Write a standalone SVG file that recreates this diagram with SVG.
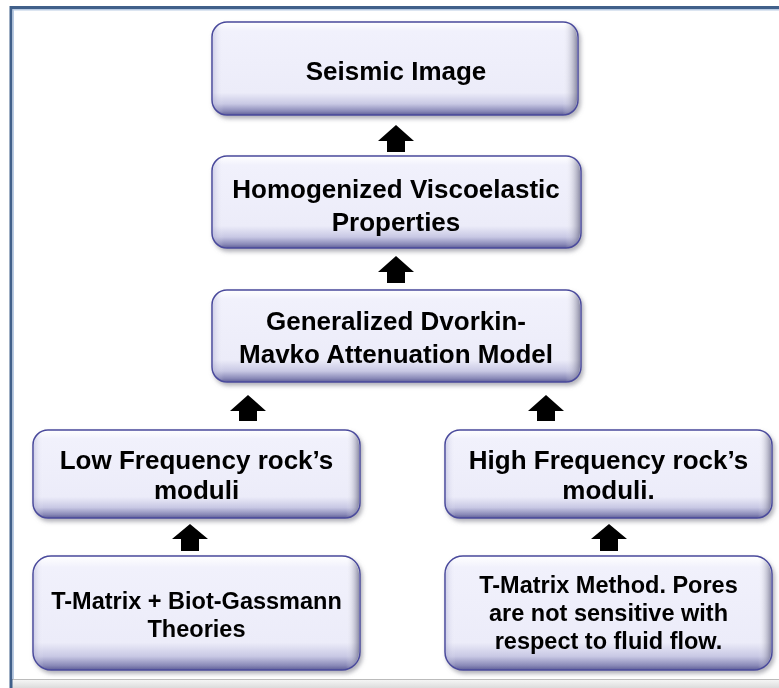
<svg xmlns="http://www.w3.org/2000/svg" width="779" height="688" viewBox="0 0 779 688">
  <style>
    .box { stroke: #4a4a9c; stroke-width: 1.5; fill: url(#gv); }
    .edge { fill: url(#gh); stroke: none; }
    .t { font-family: "Liberation Sans", Arial, sans-serif; font-weight: bold; font-size: 26px; fill: #000; text-anchor: middle; }
    .s { font-size: 23.5px; }
    .arrow { fill: #000; }
  </style>
  <defs>
    <linearGradient id="gv" x1="0" y1="0" x2="0" y2="1">
      <stop offset="0" stop-color="#ffffff"/>
      <stop offset="0.1" stop-color="#f1f1fc"/>
      <stop offset="0.76" stop-color="#ececf9"/>
      <stop offset="0.88" stop-color="#c8c8e4"/>
      <stop offset="0.96" stop-color="#8a8ab8"/>
      <stop offset="1" stop-color="#5e5e98"/>
    </linearGradient>
    <linearGradient id="gh" x1="0" y1="0" x2="1" y2="0">
      <stop offset="0" stop-color="#9a9ac8" stop-opacity="0.35"/>
      <stop offset="0.03" stop-color="#ffffff" stop-opacity="0"/>
      <stop offset="0.96" stop-color="#ffffff" stop-opacity="0"/>
      <stop offset="1" stop-color="#505070" stop-opacity="0.6"/>
    </linearGradient>
    <filter id="sh" x="-5%" y="-5%" width="115%" height="125%">
      <feDropShadow dx="2" dy="3" stdDeviation="2" flood-color="#707080" flood-opacity="0.55"/>
    </filter>
    <linearGradient id="bot" x1="0" y1="0" x2="0" y2="1">
      <stop offset="0" stop-color="#9a9a9a"/>
      <stop offset="0.15" stop-color="#f4f4f4"/>
      <stop offset="1" stop-color="#dcdcdc"/>
    </linearGradient>
  </defs>

  <rect x="0" y="0" width="779" height="688" fill="#ffffff"/>

  <g id="frame">
    <polygon points="12,679 779,679 779,688 12,688" fill="url(#bot)"/>
    <rect x="10" y="6" width="769" height="3" fill="#41608a"/>
    <rect x="12" y="9" width="767" height="1.5" fill="#b9cbe3"/>
    <rect x="9.5" y="6" width="3" height="682" fill="#41608a"/>
    <rect x="12.5" y="9" width="1.5" height="670" fill="#b9cbe3"/>
  </g>

  <g id="connectors">
    <polygon class="arrow" points="396,125 414,141 405,141 405,152 387,152 387,141 378,141"/>
    <polygon class="arrow" points="396,256 414,272 405,272 405,283 387,283 387,272 378,272"/>
    <polygon class="arrow" points="248,395 266,411 257,411 257,421 239,421 239,411 230,411"/>
    <polygon class="arrow" points="546,395 564,411 555,411 555,421 537,421 537,411 528,411"/>
    <polygon class="arrow" points="190,524 208,539 199,539 199,551 181,551 181,539 172,539"/>
    <polygon class="arrow" points="609,524 627,539 618,539 618,551 600,551 600,539 591,539"/>
  </g>

  <g id="seismic" filter="url(#sh)">
    <rect class="box" x="212" y="22" width="366" height="93" rx="15"/>
    <rect class="edge" x="213" y="23" width="364" height="91" rx="14"/>
    <text class="t" x="396" y="80">Seismic Image</text>
  </g>

  <g id="homogenized" filter="url(#sh)">
    <rect class="box" x="212" y="156" width="369" height="92" rx="15"/>
    <rect class="edge" x="213" y="157" width="367" height="90" rx="14"/>
    <text class="t" x="396" y="198">Homogenized Viscoelastic</text>
    <text class="t" x="396" y="231">Properties</text>
  </g>

  <g id="dvorkin" filter="url(#sh)">
    <rect class="box" x="212" y="290" width="369" height="92" rx="15"/>
    <rect class="edge" x="213" y="291" width="367" height="90" rx="14"/>
    <text class="t" x="396" y="330">Generalized Dvorkin-</text>
    <text class="t" x="396" y="363">Mavko Attenuation Model</text>
  </g>

  <g id="lowfreq" filter="url(#sh)">
    <rect class="box" x="33" y="430" width="327" height="88" rx="15"/>
    <rect class="edge" x="34" y="431" width="325" height="86" rx="14"/>
    <text class="t" x="196.5" y="469">Low Frequency rock’s</text>
    <text class="t" x="196.5" y="499">moduli</text>
  </g>

  <g id="highfreq" filter="url(#sh)">
    <rect class="box" x="445" y="430" width="327" height="88" rx="15"/>
    <rect class="edge" x="446" y="431" width="325" height="86" rx="14"/>
    <text class="t" x="608.5" y="469">High Frequency rock’s</text>
    <text class="t" x="608.5" y="499">moduli.</text>
  </g>

  <g id="tmatrix-biot" filter="url(#sh)">
    <rect class="box" x="33" y="556" width="327" height="114" rx="18"/>
    <rect class="edge" x="34" y="557" width="325" height="112" rx="17"/>
    <text class="t s" x="196.5" y="609">T-Matrix + Biot-Gassmann</text>
    <text class="t s" x="196.5" y="637">Theories</text>
  </g>

  <g id="tmatrix-method" filter="url(#sh)">
    <rect class="box" x="445" y="556" width="327" height="114" rx="18"/>
    <rect class="edge" x="446" y="557" width="325" height="112" rx="17"/>
    <text class="t s" x="608.5" y="593">T-Matrix Method. Pores</text>
    <text class="t s" x="608.5" y="621">are not sensitive with</text>
    <text class="t s" x="608.5" y="649">respect to fluid flow.</text>
  </g>
</svg>
